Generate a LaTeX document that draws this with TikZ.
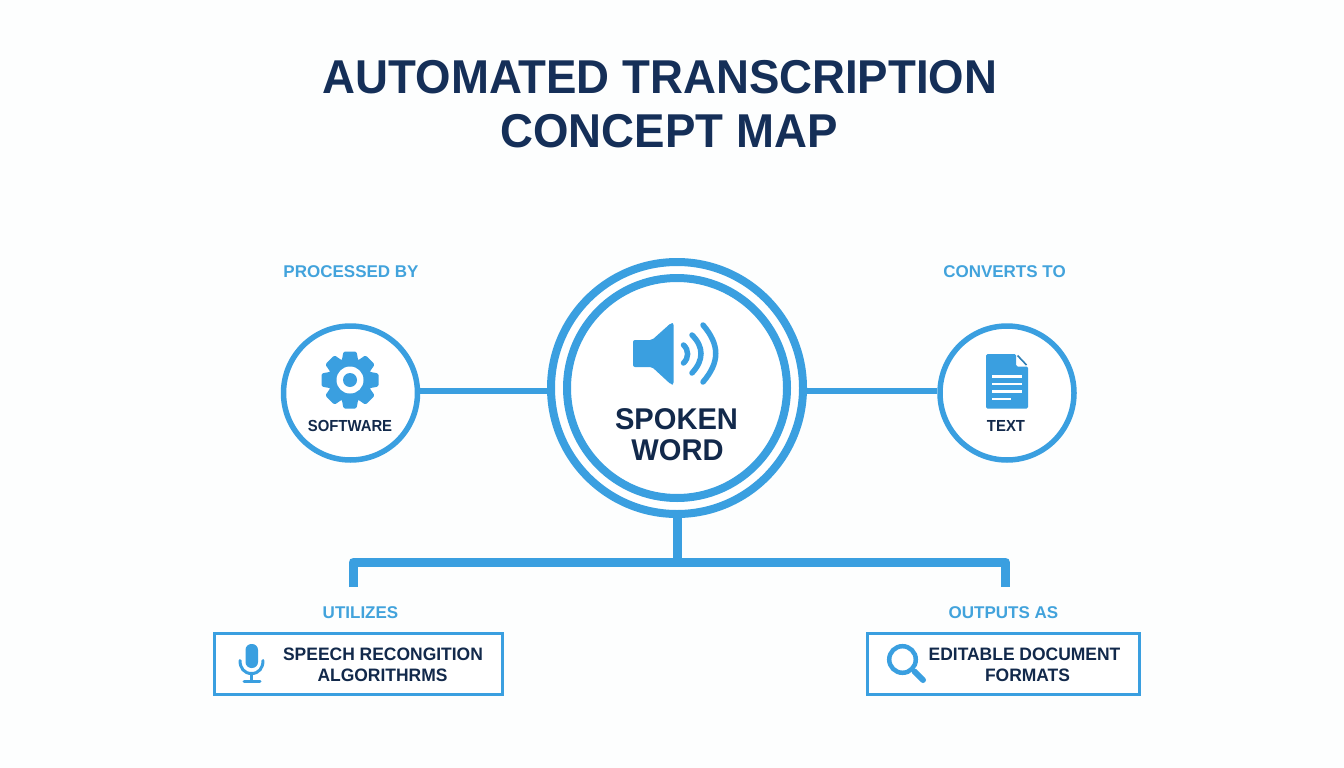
\documentclass[tikz,border=0pt]{standalone}
\usepackage{fontspec}
\setmainfont{Liberation Sans}[BoldFont=* Bold]
\definecolor{bluel}{HTML}{3A9FE0}
\definecolor{labelc}{HTML}{42A3DC}
\definecolor{navy}{HTML}{12294B}
\definecolor{titlec}{HTML}{152F58}
\definecolor{foldc}{HTML}{2F7FB5}
\definecolor{bgc}{HTML}{FDFEFE}
\newcommand{\fs}[2]{\fontsize{#1}{#1}\selectfont\bfseries\addfontfeature{FakeStretch=#2}}
\tikzset{
  x=1pt,y=-1pt,
  txt/.style={inner sep=0pt,outer sep=0pt,anchor=base,text=navy},
  linklabel/.style={inner sep=0pt,outer sep=0pt,anchor=base,text=labelc,font=\fs{17}{1.0}},
  ring/.style={circle,draw=bluel,fill=white,inner sep=0pt},
  link/.style={draw=bluel,line width=6.5pt},
  bus/.style={draw=bluel,line width=9pt,line join=round},
  boxn/.style={draw=bluel,line width=3pt,fill=white,inner sep=0pt,minimum height=61pt},
  wave/.style={draw=bluel,line width=5.5pt,line cap=round},
}
\begin{document}
\begin{tikzpicture}
\useasboundingbox (0,0) rectangle (1344,768);
\fill[bgc] (0,0) rectangle (1344,768);
% title
\node[txt,text=titlec,font=\fs{47.5}{0.96}] (t1) at (660,93.5) {AUTOMATED TRANSCRIPTION};
\node[txt,text=titlec,font=\fs{47.5}{0.96}] (t2) at (669,147) {CONCEPT MAP};
% circles
\node[ring,line width=8pt,minimum size=252pt] (hub) at (677,388) {};
\node[ring,line width=8pt,minimum size=220pt] (hubin) at (677,388) {};
\node[ring,line width=5.5pt,minimum size=134pt] (soft) at (350.5,393) {};
\node[ring,line width=5.5pt,minimum size=134pt] (text) at (1007,393) {};
% connectors
\draw[link] ([yshift=2pt]soft.east) -- ([yshift=-3pt]hub.west);
\draw[link] ([yshift=-3pt]hub.east) -- ([yshift=2pt]text.west);
\coordinate (busL) at (353,562);
\coordinate (busR) at (1005.5,562);
\coordinate (dropL) at (353,587);
\coordinate (dropR) at (1005.5,587);
\draw[bus] (dropL) -- (busL) -- (busR) -- (dropR);
\draw[bus] (hub.south) -- (hub.south |- busL);
% link labels
\node[linklabel] (l1) at (351,277) {PROCESSED BY};
\node[linklabel] (l2) at (1004.5,277) {CONVERTS TO};
\node[linklabel] (l3) at (360.5,618) {UTILIZES};
\node[linklabel] (l4) at (1003.5,618) {OUTPUTS AS};
% boxes
\node[boxn,minimum width=288pt] (algo) at (358.5,664) {};
\node[boxn,minimum width=272pt] (docf) at (1003.5,664) {};
\node[txt,font=\fs{18}{0.97}] (a1) at (383,660) {SPEECH RECONGITION};
\node[txt,font=\fs{18}{0.97}] (a2) at (382.5,681) {ALGORITHRMS};
\node[txt,font=\fs{18}{0.97}] (d1) at (1024.5,660) {EDITABLE DOCUMENT};
\node[txt,font=\fs{18}{0.97}] (d2) at (1027.5,681) {FORMATS};
% hub text
\node[txt,font=\fs{30}{0.97}] (s1) at (676.5,429) {SPOKEN};
\node[txt,font=\fs{30}{0.97}] (s2) at (677.5,460.5) {WORD};
\node[txt,font=\fs{16}{0.93}] (s3) at (350,431.5) {SOFTWARE};
\node[txt,font=\fs{16}{0.93}] (s4) at (1006,431.5) {TEXT};
% speaker
\fill[bluel,rounded corners=2pt] (633,340) -- (652,340) -- (671,323) -- (673.5,323) -- (673.5,384.5) -- (671,384.5) -- (652,367) -- (633,367) -- cycle;
\draw[wave] (683.5,345) .. controls (689,350) and (689,358) .. (683.5,363);
\draw[wave] (692,335) .. controls (704,347) and (704,360) .. (692,373);
\draw[wave] (703,325) .. controls (720,345) and (720,362) .. (703,382);
% gear
\begin{scope}[shift={(350,380)}]
\foreach \a in {0,45,...,315}{
  \fill[bluel,rotate=\a,rounded corners=1.5pt] (-6.5,-28.5) -- (6.5,-28.5) -- (8.5,-18) -- (-8.5,-18) -- cycle;
}
\fill[bluel] (0,0) circle[radius=22];
\fill[white] (0,0) circle[radius=13.5];
\fill[bluel] (0,0) circle[radius=7];
\end{scope}
% document
\fill[bluel,rounded corners=1.5pt] (986,354) -- (1016,354) -- (1016,366.5) -- (1028,366.5) -- (1028,408.7) -- (986,408.7) -- cycle;
\draw[foldc,line width=1.6pt] (1017.5,355.5) -- (1026.5,365);
\draw[white,line width=2.7pt] (992,376.7) -- (1021.7,376.7);
\draw[white,line width=2.7pt] (992,384) -- (1021.7,384);
\draw[white,line width=2.7pt] (992,391.7) -- (1021.7,391.7);
\draw[white,line width=2.7pt] (992,399) -- (1010.5,399);
% microphone
\fill[bluel,rounded corners=5.9pt] (245.5,644) rectangle (258,668);
\draw[bluel,line width=3pt,line cap=round] (240,660.5) .. controls (240,668) and (244,673.5) .. (251.5,673.5) .. controls (259,673.5) and (263,668) .. (263,660.5);
\draw[bluel,line width=3pt] (251.5,673.5) -- (251.5,681);
\draw[bluel,line width=3pt,line cap=round] (244,681.3) -- (260,681.3);
% magnifier
\draw[bluel,line width=4.5pt] (902.5,659.5) circle[radius=13.3];
\draw[bluel,line width=6pt,line cap=round] (914.5,671.5) -- (923,680);
\end{tikzpicture}
\end{document}
